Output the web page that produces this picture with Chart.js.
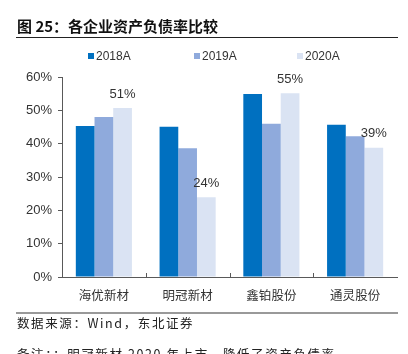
<!DOCTYPE html>
<html>
<head>
<meta charset="utf-8">
<script src="https://cdn.jsdelivr.net/npm/chart.js@4"></script>
<style>
  body { margin: 0; background: #fff; }
  #wrap { position: relative; width: 408px; height: 354px; overflow: hidden; }
  #grafico { position: absolute; left: 0; top: 0; }
  .titulo { position: absolute; left: 17px; top: 15px; font: bold 15px "Noto Sans CJK SC"; letter-spacing: 0; color: #111; white-space: nowrap; }
  .linha1 { position: absolute; left: 16px; top: 37px; width: 382px; height: 1px; background: #222; }
  .linha2 { position: absolute; left: 16px; top: 312px; width: 382px; height: 2px; background: #999; }
  .legenda { position: absolute; top: 49px; font: 12px "Liberation Sans"; color: #333; white-space: nowrap; }
  .legenda i { display: inline-block; width: 6px; height: 6px; margin-right: 2px; vertical-align: 1px; }
  .fonte { position: absolute; left: 17px; font: 12.5px "Noto Sans CJK SC"; letter-spacing: 1.6px; color: #222; white-space: nowrap; }
</style>
</head>
<body>
<div id="wrap">
  <canvas id="grafico" width="408" height="354"></canvas>
  <div class="titulo">图 25：各企业资产负债率比较</div>
  <div class="linha1"></div>
  <div id="leg"></div>
  <div class="linha2"></div>
  <div class="fonte" style="top:313px">数据来源：Wind，东北证券</div>
  <div class="fonte" style="top:344px">备注：：明冠新材 2020 年上市，降低了资产负债率</div>
</div>
<script>
const categorias = ['海优新材', '明冠新材', '鑫铂股份', '通灵股份'];
const anos = ['2018A', '2019A', '2020A'];
const valores2018 = [45.3, 45.1, 54.9, 45.7];
const valores2019 = [48.0, 38.6, 46.0, 42.2];
const valores2020 = [50.7, 23.9, 55.1, 38.8];
const rotulos2020 = ['51%', '24%', '55%', '39%'];
const cores = ['#0070C0', '#8FAADC', '#DAE3F3'];

// legenda em HTML
const posLegenda = [88, 194, 297];
document.getElementById('leg').innerHTML = anos.map((a, i) =>
  `<div class="legenda" style="left:${posLegenda[i]}px"><i style="background:${cores[i]}"></i>${a}</div>`
).join('');

// rótulos só na série 2020
const rotulosPlugin = {
  id: 'rotulos',
  afterDatasetsDraw(chart) {
    const ctx = chart.ctx;
    const meta = chart.getDatasetMeta(2);
    ctx.save();
    ctx.font = '13px "Liberation Sans"';
    ctx.fillStyle = '#333';
    ctx.textAlign = 'center';
    ctx.textBaseline = 'middle';
    meta.data.forEach((bar, i) => {
      ctx.fillText(rotulos2020[i], bar.x, bar.y - 14);
    });
    ctx.restore();
  }
};

// pequenos traços entre categorias no eixo x
const tracosPlugin = {
  id: 'tracos',
  afterDraw(chart) {
    const ctx = chart.ctx;
    const x = chart.scales.x;
    const base = chart.chartArea.bottom;
    ctx.save();
    ctx.strokeStyle = '#595959';
    ctx.lineWidth = 1;
    for (let i = 1; i < categorias.length; i++) {
      const px = Math.round((x.getPixelForValue(i - 1) + x.getPixelForValue(i)) / 2) + 0.5;
      ctx.beginPath();
      ctx.moveTo(px, base);
      ctx.lineTo(px, base - 4);
      ctx.stroke();
    }
    ctx.restore();
  }
};

new Chart(document.getElementById('grafico'), {
  type: 'bar',
  data: {
    labels: categorias,
    datasets: [
      { label: anos[0], data: valores2018, backgroundColor: cores[0] },
      { label: anos[1], data: valores2019, backgroundColor: cores[1] },
      { label: anos[2], data: valores2020, backgroundColor: cores[2] }
    ]
  },
  options: {
    responsive: false,
    animation: false,
    datasets: { bar: { categoryPercentage: 0.67, barPercentage: 1.0 } },
    layout: { padding: { top: 77, right: 11, left: 0, bottom: 0 } },
    scales: {
      y: {
        min: 0,
        max: 60,
        ticks: {
          stepSize: 10,
          callback: v => v + '%',
          color: '#333',
          font: { family: 'Liberation Sans', size: 13 },
          padding: 6
        },
        grid: { drawOnChartArea: false, drawTicks: true, tickLength: 4, color: '#595959' },
        border: { color: '#595959', width: 1 },
        afterFit(scale) { scale.width = 62; }
      },
      x: {
        ticks: {
          color: '#333',
          font: { family: 'Noto Sans CJK SC', size: 12.5 },
          padding: 11
        },
        grid: { display: false, drawTicks: false },
        border: { color: '#595959', width: 1 },
        afterFit(scale) { scale.height = 77; }
      }
    },
    plugins: {
      legend: { display: false },
      tooltip: { enabled: false }
    }
  },
  plugins: [rotulosPlugin, tracosPlugin]
});
</script>
</body>
</html>
